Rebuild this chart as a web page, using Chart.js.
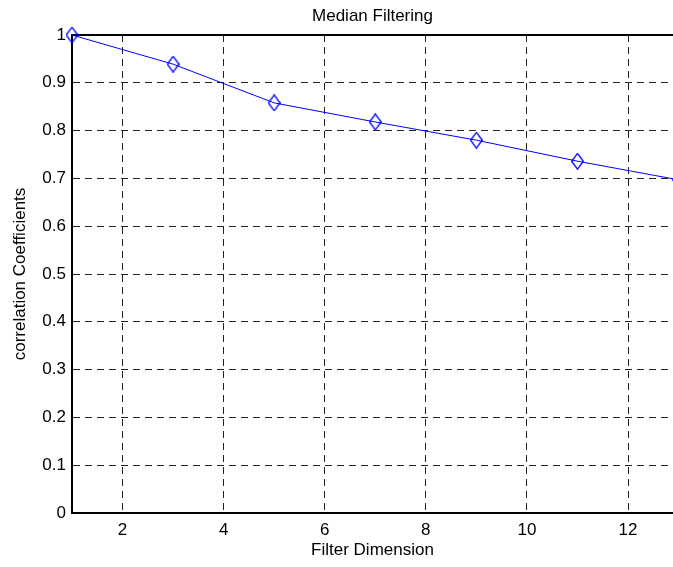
<!DOCTYPE html>
<html>
<head>
<meta charset="utf-8">
<script src="https://cdn.jsdelivr.net/npm/chart.js@4"></script>
<style>
html,body{margin:0;padding:0;background:#fff;overflow:hidden}
#wrap{width:673px;height:567px;position:relative}
</style>
</head>
<body>
<div id="wrap"><canvas id="c" width="673" height="567"></canvas></div>
<script>
// ===== data =====
const filterDim=[1,3,5,7,9,11,13];
const corrCoef=[1.0,0.939,0.858,0.818,0.780,0.736,0.697];
const xTicks=[2,4,6,8,10,12];
const yTicks=[0,0.1,0.2,0.3,0.4,0.5,0.6,0.7,0.8,0.9,1];
const xMax=12.89; // plot is cut at the right edge

// tall hollow diamond like matlab 'd' marker
function diamond(){
  const w=13,h=17,cv=document.createElement('canvas');
  cv.width=w;cv.height=h;
  const g=cv.getContext('2d');
  g.strokeStyle='#0000ff';g.lineWidth=1.3;
  g.beginPath();
  g.moveTo(w/2,0.7);g.lineTo(w-0.7,h/2);g.lineTo(w/2,h-0.7);g.lineTo(0.7,h/2);g.closePath();
  g.stroke();
  return cv;
}

const font={family:'Arial, "Liberation Sans", sans-serif',size:17};
const dash=[7,5];

new Chart(document.getElementById('c').getContext('2d'),{type:'scatter',
  data:{datasets:[{data:filterDim.map((x,i)=>({x,y:corrCoef[i]})),
    showLine:true,borderColor:'#0000ff',borderWidth:1,
    pointStyle:diamond(),pointRadius:7,pointHoverRadius:7,clip:{left:10,top:10,right:0,bottom:0}}]},
  options:{responsive:false,animation:false,
    layout:{padding:0,autoPadding:false},
    plugins:{legend:{display:false},tooltip:{enabled:false},title:{display:false}},
    scales:{
      x:{type:'linear',min:1,max:xMax,
        afterBuildTicks:s=>{s.ticks=xTicks.map(v=>({value:v}))},
        afterFit:s=>{s.height=54;s.paddingRight=0;s.paddingLeft=0},
        grid:{color:'#222',lineWidth:1,drawTicks:false},
        border:{color:'#000',width:2,dash:dash},
        ticks:{color:'#000',font,padding:7},
        title:{display:true,text:'Filter Dimension',color:'#000',font,padding:{top:2,bottom:6}}},
      x2:{type:'linear',position:'top',min:1,max:xMax,
        afterFit:s=>{s.height=35;s.paddingRight=0;s.paddingLeft=0},
        grid:{display:false},
        border:{color:'#000',width:2},
        ticks:{display:false},
        title:{display:true,text:'Median Filtering',color:'#000',font,padding:{top:6,bottom:6}}},
      y:{min:0,max:1,
        afterBuildTicks:s=>{s.ticks=yTicks.map(v=>({value:v}))},
        afterFit:s=>{s.width=72},
        grid:{color:'#222',lineWidth:1,drawTicks:false},
        border:{color:'#000',width:2,dash:dash},
        ticks:{color:'#000',font,padding:6,callback:v=>String(+v.toFixed(1))},
        title:{display:true,text:'correlation Coefficients',color:'#000',font,padding:{top:10,bottom:4}}}
    }}
});
</script>
</body>
</html>
